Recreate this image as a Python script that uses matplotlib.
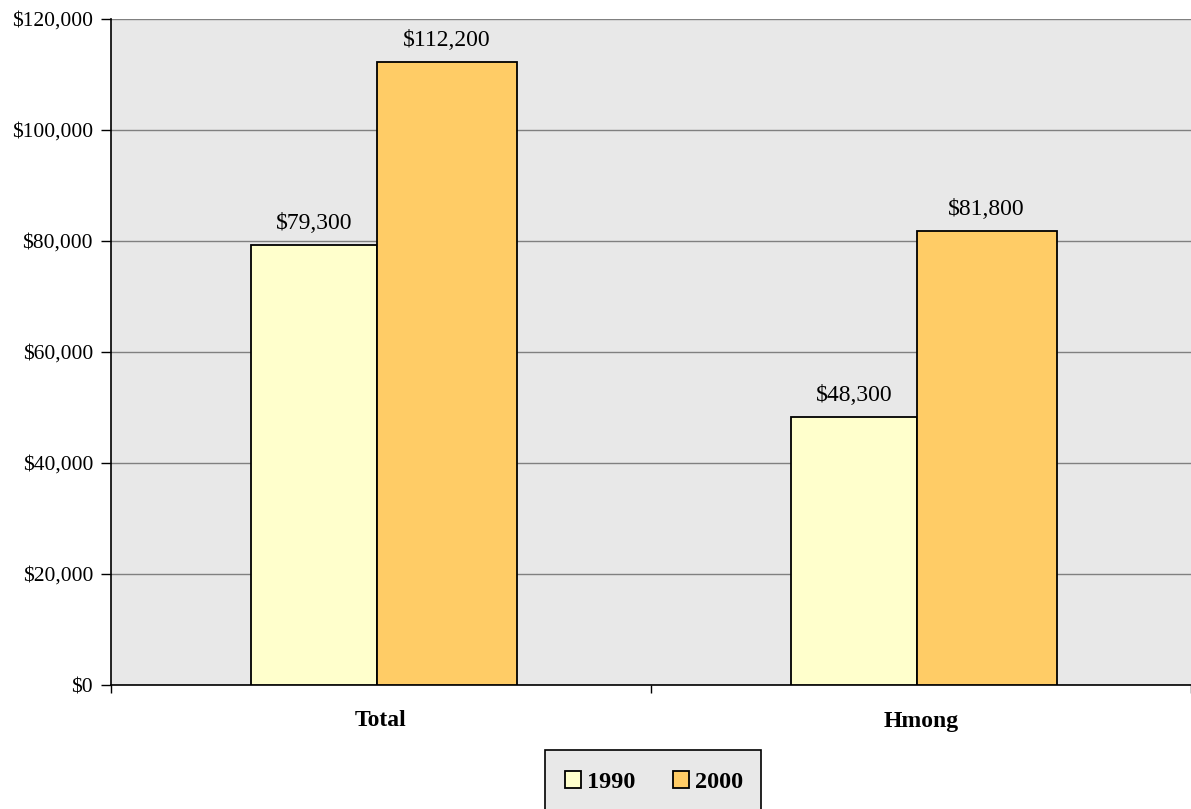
import matplotlib.pyplot as plt
from matplotlib.patches import Rectangle
import numpy as np

categories = ['Total', 'Hmong']
years = ['1990', '2000']
values_1990 = [79300, 48300]
values_2000 = [112200, 81800]
colors = ['#ffffcc', '#ffcc66']

plt.rcParams['font.family'] = ['Liberation Serif', 'DejaVu Serif']

fig = plt.figure(figsize=(11.91, 8.09), dpi=100)
ax = fig.add_axes([111 / 1191, 1 - 685 / 809, 1 - 111 / 1191, (685 - 19) / 809])
ax.set_facecolor('#e8e8e8')

x = np.arange(len(categories))
# bar edges relative to category centre (the reference bars are slightly unequal)
edges = [(-0.24, -0.0083), (-0.0083, 0.251)]
series = [values_1990, values_2000]
bars = []
for i, vals in enumerate(series):
    lo, hi = edges[i]
    b = ax.bar(x + lo, vals, hi - lo, align='edge', color=colors[i], edgecolor='black',
               linewidth=1.3, label=years[i], zorder=3)
    bars.append(b)
    for xi, v in zip(x + (lo + hi) / 2, vals):
        ax.annotate('${:,}'.format(v), (xi, v), xytext=(0, 11.5), textcoords='offset points',
                    ha='center', va='baseline', fontsize=17)

ax.set_xlim(-0.5, 1.5)
ax.set_ylim(0, 120000)
ax.set_yticks(np.arange(0, 120001, 20000))
ax.set_yticklabels(['${:,}'.format(v) for v in range(0, 120001, 20000)], fontsize=15.5)
ax.yaxis.grid(True, color='#808080', linewidth=1, zorder=0)

ax.set_xticks([-0.5, 0.5, 1.5])
ax.set_xticklabels([])
ax.tick_params(axis='x', length=6, width=1, direction='out')
ax.tick_params(axis='y', length=7, width=1, direction='out', pad=6)
for i, c in enumerate(categories):
    ax.annotate(c, (x[i], 0), xytext=(0, -36), textcoords='offset pixels',
                ha='center', va='center', fontsize=17, fontweight='bold')

ax.spines['top'].set_visible(False)
ax.spines['right'].set_visible(False)
ax.spines['left'].set_linewidth(1.2)
ax.spines['bottom'].set_linewidth(1.2)

# legend box, running off the bottom of the figure as in the reference
fig.patches.append(Rectangle((545 / 1191, -0.02), 216 / 1191, (809 - 750) / 809 + 0.02,
                             transform=fig.transFigure, facecolor='#e8e8e8',
                             edgecolor='black', linewidth=1.2))
leg = fig.legend(handles=bars, labels=years, loc='center',
                 bbox_to_anchor=(654 / 1191, 1 - 782 / 809),
                 ncol=2, frameon=False, prop={'weight': 'bold', 'size': 17.5},
                 handlelength=0.66, handleheight=0.66, handletextpad=0.25,
                 borderpad=0, borderaxespad=0, columnspacing=1.55)

fig.savefig('out.png', dpi=100)
